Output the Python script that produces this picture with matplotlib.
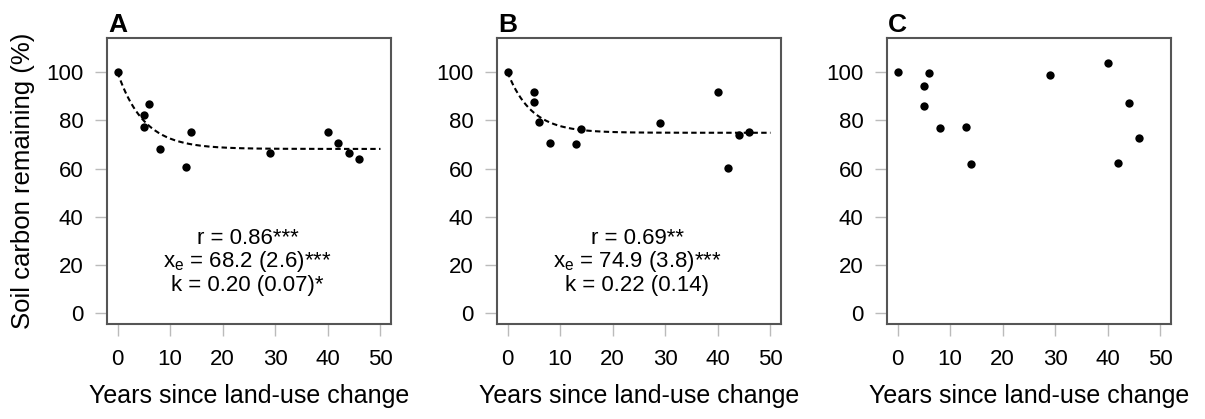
import numpy as np
import matplotlib
matplotlib.use('Agg')
import matplotlib.pyplot as plt

plt.rcParams['font.family'] = ['Liberation Sans', 'DejaVu Sans']
plt.rcParams['mathtext.fontset'] = 'custom'
plt.rcParams['mathtext.rm'] = 'Liberation Sans'
plt.rcParams['mathtext.it'] = 'Liberation Sans'

# data
years = [0, 5, 5, 6, 8, 13, 14, 29, 40, 42, 44, 46]
carbon_a = [100, 82.3, 77.2, 86.7, 68.2, 60.6, 75.4, 66.7, 75.4, 70.5, 66.7, 63.9]
carbon_b = [100, 92.0, 87.5, 79.5, 70.5, 70.1, 76.3, 79.1, 92.0, 60.2, 74.0, 75.4]
carbon_c = [100, 94.3, 86.1, 99.6, 76.8, 77.2, 62.0, 99.0, 103.7, 62.4, 87.1, 72.9]

# fitted exponential decay parameters (from the annotations)
xe_a, k_a = 68.2, 0.20
xe_b, k_b = 74.9, 0.22

labels_a = ['r = 0.86***', r'x$_\mathregular{e}$ = 68.2 (2.6)***', 'k = 0.20 (0.07)*']
labels_b = ['r = 0.69**', r'x$_\mathregular{e}$ = 74.9 (3.8)***', 'k = 0.22 (0.14)']

panels = ['A', 'B', 'C']
xticks = [0, 10, 20, 30, 40, 50]
yticks = [0, 20, 40, 60, 80, 100]

fig = plt.figure(figsize=(12.05, 4.19), dpi=100)
lefts = [107 / 1205, 497 / 1205, 887 / 1205]
w = 284 / 1205
b = 95 / 419
h = 286 / 419

data = [(carbon_a, xe_a, k_a, labels_a), (carbon_b, xe_b, k_b, labels_b), (carbon_c, None, None, None)]
text_y = [28.9, 19.3, 9.3]

for i, (vals, xe, k, labs) in enumerate(data):
    ax = fig.add_axes([lefts[i], b, w, h])
    ax.scatter(years, vals, s=36, color='black', zorder=3, linewidths=0)
    if xe is not None:
        t = np.linspace(0, 50, 200)
        ax.plot(t, xe + (100 - xe) * np.exp(-k * t), color='black', ls=(0, (2.6, 1.6)), lw=1.5)
        for j, lab in enumerate(labs):
            ax.text(24.7, text_y[j], lab, ha='center', va='baseline', fontsize=16)
    ax.set_xlim(-2, 52)
    ax.set_ylim(-4.4, 114.2)
    ax.set_xticks(xticks)
    ax.set_yticks(yticks)
    ax.tick_params(length=8.5, width=1, color='#bbbbbb', labelsize=16, pad=8.5)
    ax.tick_params(axis='x', pad=9.5)
    for s in ax.spines.values():
        s.set_color('#555555')
        s.set_linewidth(1.5)
    ax.set_xlabel('Years since land-use change', fontsize=18, labelpad=10)
    if i == 0:
        ax.set_ylabel('Soil carbon remaining (%)', fontsize=18.5, labelpad=8)
    ax.text(0.003, 1.021, panels[i], transform=ax.transAxes, fontsize=19, fontweight='bold',
            ha='left', va='baseline')

fig.savefig('out.png', dpi=100)
